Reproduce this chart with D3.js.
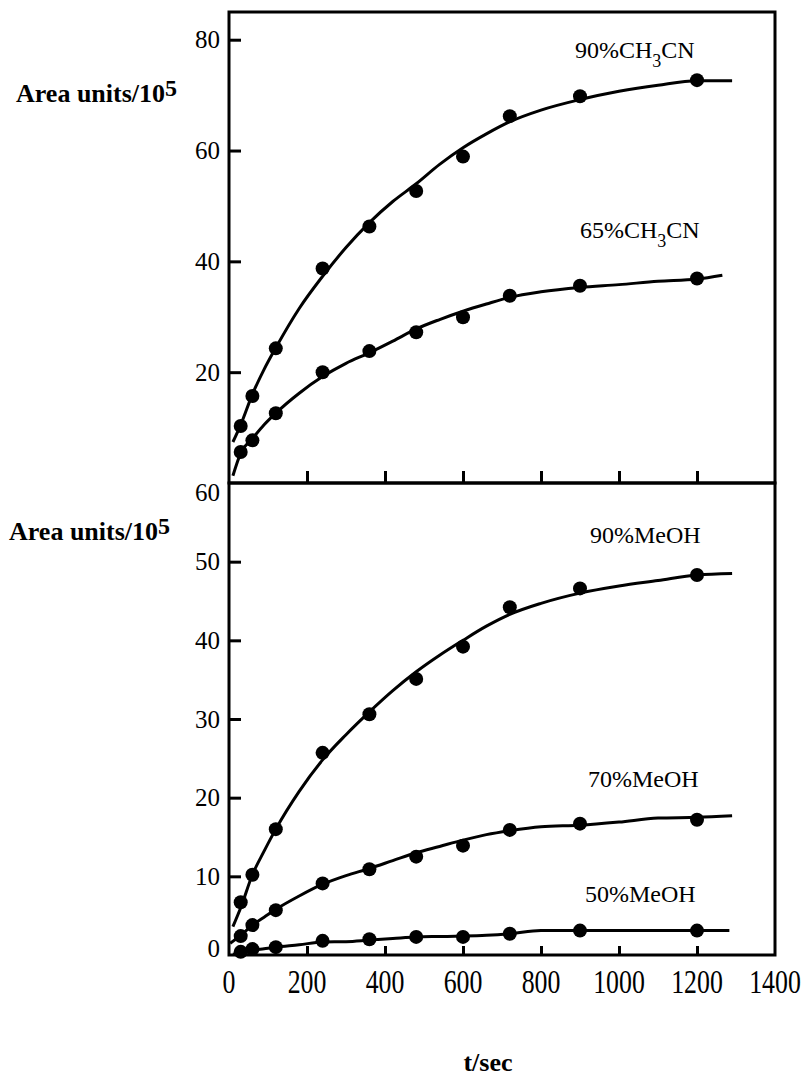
<!DOCTYPE html>
<html>
<head>
<meta charset="utf-8">
<script src="https://cdn.jsdelivr.net/npm/d3@7/dist/d3.min.js"></script>
<style>
  html, body { margin: 0; padding: 0; background: #fff; }
  text { font-family: "Liberation Serif", "Times New Roman", serif; fill: #000; }
</style>
</head>
<body>
<svg id="chart" width="802" height="1079"></svg>
<script>
// ---- data ----
const times = [30, 60, 120, 240, 360, 480, 600, 720, 900, 1200];
const ch90 = [10.3, 15.7, 24.3, 38.7, 46.3, 52.7, 58.9, 66.2, 69.8, 72.7];
const ch65 = [5.6, 7.7, 12.6, 20.0, 23.8, 27.2, 29.9, 33.8, 35.6, 36.9];
const me90 = [6.7, 10.2, 16.0, 25.7, 30.6, 35.1, 39.2, 44.2, 46.6, 48.3];
const me70 = [2.4, 3.8, 5.7, 9.1, 10.9, 12.5, 13.9, 15.9, 16.7, 17.2];
const me50 = [0.4, 0.75, 1.0, 1.8, 2.0, 2.3, 2.3, 2.7, 3.1, 3.1];

// fitted curves
const fitT    = [10, 30, 60, 90, 120, 180, 240, 300, 360, 420, 480, 540, 600, 660, 720, 800, 900, 1000, 1100, 1200, 1290];
const ch90Fit = [7.4, 10.5, 16.0, 20.5, 24.4, 31.5, 37.3, 42.5, 47.0, 50.8, 54.0, 57.5, 60.5, 63.0, 65.2, 67.3, 69.2, 70.7, 71.8, 72.6, 72.6];
const ch65T   = [10, 30, 60, 90, 120, 180, 240, 300, 360, 420, 480, 540, 600, 660, 720, 800, 900, 1000, 1100, 1200, 1265];
const ch65Fit = [1.3, 5.4, 8.0, 10.5, 12.6, 16.2, 19.2, 21.6, 23.5, 25.6, 27.8, 29.5, 31.0, 32.3, 33.5, 34.5, 35.3, 35.8, 36.4, 36.8, 37.5];
const me90Fit = [3.6, 6.0, 10.2, 13.2, 16.0, 20.8, 24.8, 28.0, 30.9, 33.6, 36.0, 38.1, 40.0, 41.8, 43.3, 44.7, 46.0, 46.9, 47.6, 48.3, 48.5];
const me70T   = [3, 30, 60, 90, 120, 180, 240, 300, 360, 420, 480, 540, 600, 660, 720, 800, 900, 1000, 1100, 1200, 1290];
const me70Fit = [1.5, 2.5, 3.8, 4.8, 5.8, 7.5, 9.0, 10.1, 11.0, 12.0, 13.0, 13.8, 14.6, 15.3, 15.8, 16.3, 16.5, 16.9, 17.4, 17.5, 17.7];
const me50T   = [10, 30, 60, 90, 120, 180, 240, 300, 360, 420, 480, 540, 600, 660, 720, 800, 900, 1000, 1100, 1200, 1283];
const me50Fit = [0.1, 0.3, 0.6, 0.8, 1.0, 1.3, 1.65, 1.7, 1.9, 2.1, 2.3, 2.35, 2.4, 2.5, 2.7, 3.1, 3.1, 3.1, 3.1, 3.1, 3.1];

const xTicks = [0, 200, 400, 600, 800, 1000, 1200, 1400];
const yTopTicks = [20, 40, 60, 80];
const yBotTicks = [0, 10, 20, 30, 40, 50, 60];

const seriesTop = [
  {name: "90%", sub: "3", fit: ch90Fit, fitT: fitT, pts: ch90, lx: 575, ly: 58},
  {name: "65%", sub: "3", fit: ch65Fit, fitT: ch65T, pts: ch65, lx: 580, ly: 238}
];
const seriesBot = [
  {label: "90%MeOH", fit: me90Fit, fitT: fitT, pts: me90, lx: 590, ly: 543},
  {label: "70%MeOH", fit: me70Fit, fitT: me70T, pts: me70, lx: 588, ly: 787},
  {label: "50%MeOH", fit: me50Fit, fitT: me50T, pts: me50, lx: 585, ly: 902}
];

// ---- scales ----
const svg = d3.select("#chart");
const x = d3.scaleLinear().domain([0, 1400]).range([229, 775]);
const yT = d3.scaleLinear().domain([0, 85]).range([483, 12]);
const yB = d3.scaleLinear().domain([0, 60]).range([955, 483]);

function frame(y) {
  svg.append("rect")
    .attr("x", x(0)).attr("y", y.range()[1])
    .attr("width", x(1400) - x(0)).attr("height", y.range()[0] - y.range()[1])
    .attr("fill", "none").attr("stroke", "#000").attr("stroke-width", 3);
}
frame(yT);
frame(yB);

// y axes (ticks inside)
function yAxis(y, ticks, lineTicks, labelShift) {
  const g = svg.append("g").attr("transform", `translate(${x(0)},0)`)
    .call(d3.axisRight(y).tickValues(ticks).tickSize(12).tickFormat(""));
  g.select(".domain").remove();
  g.selectAll(".tick line").attr("stroke", "#000").attr("stroke-width", 3)
    .attr("display", d => lineTicks.includes(d) ? null : "none");
  svg.append("g").selectAll("text").data(ticks).join("text")
    .attr("x", x(0) - 9)
    .attr("y", d => y(d) + (labelShift[d] || 0))
    .attr("dy", "0.35em")
    .attr("text-anchor", "end")
    .attr("font-size", 25)
    .text(d => d);
}
yAxis(yT, yTopTicks, yTopTicks, {});
yAxis(yB, yBotTicks, [10, 20, 30, 40, 50], {0: -7, 60: 9});

// x ticks (inside, both panels)
function xTickLines(yPos, len) {
  const g = svg.append("g").attr("transform", `translate(0,${yPos})`)
    .call(d3.axisTop(x).tickValues(xTicks.filter(d => d > 0 && d < 1400)).tickSize(len).tickFormat(""));
  g.select(".domain").remove();
  g.selectAll(".tick line").attr("stroke", "#000").attr("stroke-width", 3);
}
xTickLines(yT(0), 12);
xTickLines(yB(0), 9);

svg.append("g").selectAll("text").data(xTicks).join("text")
  .attr("transform", d => `translate(${x(d)},993) scale(0.76,1)`)
  .attr("text-anchor", "middle")
  .attr("font-size", 34)
  .text(d => d);

// axis titles
function yTitle(tx, ty) {
  const t = svg.append("text").attr("x", tx).attr("y", ty)
    .attr("font-size", 26).attr("font-weight", "bold");
  t.append("tspan").text("Area units/10");
  t.append("tspan").attr("dy", -6).attr("font-size", 24).text("5");
}
yTitle(16, 102);
yTitle(9, 540);

svg.append("text").attr("x", 488).attr("y", 1071)
  .attr("text-anchor", "middle").attr("font-size", 26).attr("font-weight", "bold")
  .text("t/sec");

// curves + points
const line = (y) => d3.line().x(d => x(d[0])).y(d => y(d[1])).curve(d3.curveMonotoneX);

function drawSeries(s, y) {
  svg.append("path")
    .datum(s.fitT.map((t, i) => [t, s.fit[i]]))
    .attr("d", line(y))
    .attr("fill", "none").attr("stroke", "#000").attr("stroke-width", 3)
    .attr("stroke-linejoin", "round");
  svg.append("g").selectAll("circle")
    .data(times.map((t, i) => [t, s.pts[i]]))
    .join("circle")
    .attr("cx", d => x(d[0])).attr("cy", d => y(d[1]))
    .attr("r", 7).attr("fill", "#000");
}
seriesTop.forEach(s => drawSeries(s, yT));
seriesBot.forEach(s => drawSeries(s, yB));

// series labels
seriesTop.forEach(s => {
  const t = svg.append("text").attr("x", s.lx).attr("y", s.ly).attr("font-size", 24);
  t.append("tspan").text(s.name + "CH");
  t.append("tspan").attr("dy", 9).attr("font-size", 18).text(s.sub);
  t.append("tspan").attr("dy", -9).text("CN");
});
seriesBot.forEach(s => {
  svg.append("text").attr("x", s.lx).attr("y", s.ly).attr("font-size", 24).text(s.label);
});
</script>
</body>
</html>
